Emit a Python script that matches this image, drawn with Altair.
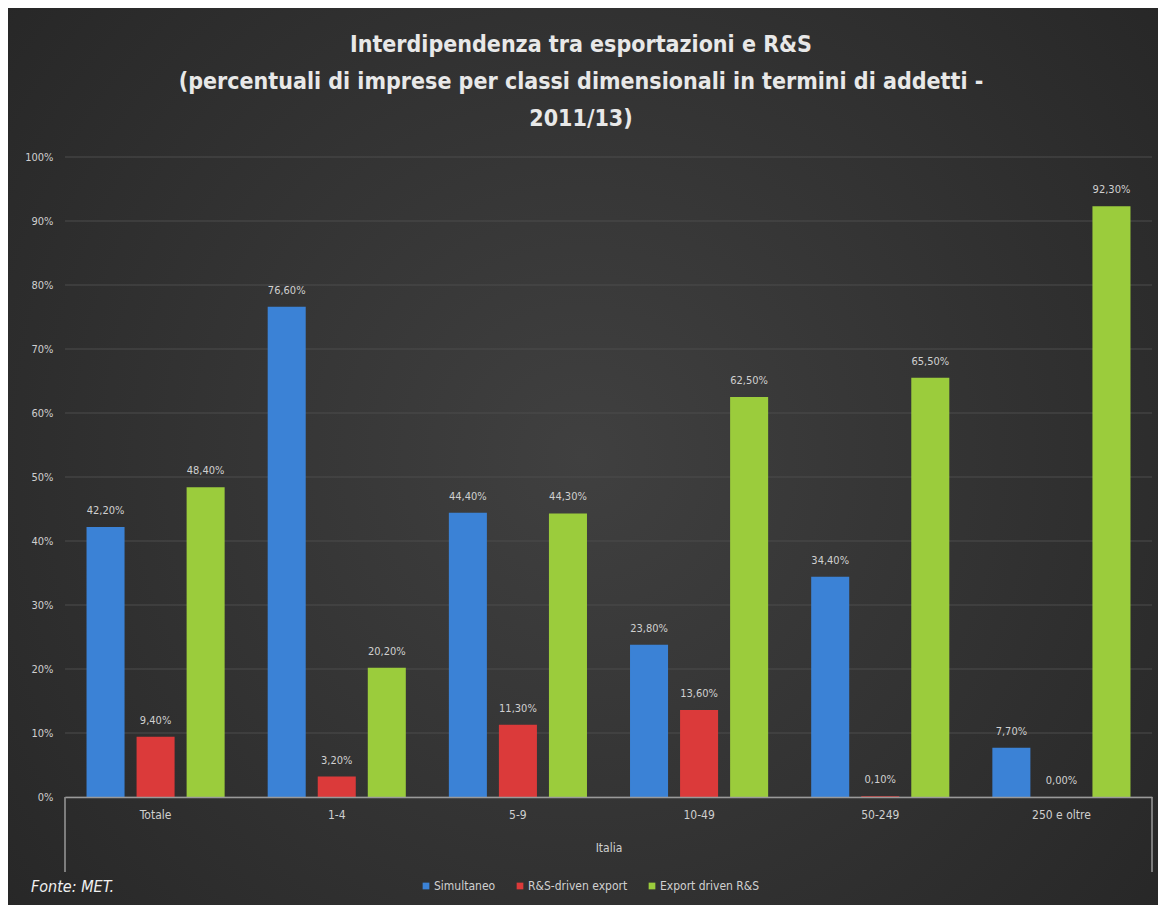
import altair as alt
import pandas as pd

categories = ["Totale", "1-4", "5-9", "10-49", "50-249", "250 e oltre"]
series = ["Simultaneo", "R&S-driven export", "Export driven R&S"]
simultaneo = [42.2, 76.6, 44.4, 23.8, 34.4, 7.7]
rs_driven = [9.4, 3.2, 11.3, 13.6, 0.1, 0.0]
export_driven = [48.4, 20.2, 44.3, 62.5, 65.5, 92.3]
colors = ["#3b82d6", "#db3a3a", "#9bcc3c"]
y_ticks = [0, 10, 20, 30, 40, 50, 60, 70, 80, 90, 100]
title_lines = ["Interdipendenza tra esportazioni e R&S",
               "(percentuali di imprese per classi dimensionali in termini di addetti -",
               "2011/13)"]
source_note = "Fonte: MET."

rows = []
for s, vals in zip(series, [simultaneo, rs_driven, export_driven]):
    for c, v in zip(categories, vals):
        rows.append({"cat": c, "series": s, "value": v})
df = pd.DataFrame(rows)
grid_df = pd.DataFrame({"t": y_ticks})
one = pd.DataFrame({"note": [source_note], "title": ["\n".join(title_lines)]})

FONT = "Liberation Sans Narrow, DejaVu Sans Condensed, Open Sans, sans-serif"
W, H = 1087, 640

yscale = alt.Scale(domain=[0, 100], nice=False)
yaxis = alt.Axis(title=None, values=y_ticks, labelExpr="datum.value + '%'", grid=False,
                 domain=False, ticks=False, labelColor="#cfcfcf", labelFontSize=11,
                 labelFont=FONT, labelPadding=12, zindex=1)
xscale = alt.Scale(paddingInner=0, paddingOuter=0)
xaxis = alt.Axis(title="Italia", labelAngle=0, ticks=False, domainColor="#9a9a9a",
                 domainWidth=1.5, labelColor="#cfcfcf", labelFontSize=12, labelFont=FONT,
                 labelPadding=12, titleColor="#cfcfcf", titleFontSize=12, titleFont=FONT,
                 titleFontWeight="normal", titlePadding=22, zindex=1)
xoffscale = alt.Scale(paddingInner=0.24, paddingOuter=0.43)

bg = alt.Chart(one).mark_rect(
    fill=alt.Gradient(gradient="radial", x1=0.5, y1=0.5, r1=0.0, x2=0.5, y2=0.5, r2=0.75,
                      stops=[alt.GradientStop(color="#404040", offset=0),
                             alt.GradientStop(color="#232323", offset=1)])
).encode(x=alt.value(-57), x2=alt.value(1093), y=alt.value(-149), y2=alt.value(748))

grid = alt.Chart(grid_df).mark_rule(color="#4d4d4d", strokeWidth=1).encode(
    y=alt.Y("t:Q", scale=yscale, axis=yaxis), x=alt.value(0), x2=alt.value(W))

bars = alt.Chart(df).mark_bar().encode(
    x=alt.X("cat:N", sort=categories, scale=xscale, axis=xaxis),
    xOffset=alt.XOffset("series:N", sort=series, scale=xoffscale),
    y=alt.Y("value:Q", scale=yscale, axis=yaxis),
    color=alt.Color("series:N", sort=series, scale=alt.Scale(domain=series, range=colors),
                    legend=alt.Legend(title=None, orient="none", legendX=355, legendY=723,
                                      direction="horizontal", symbolType="square", symbolSize=45,
                                      labelColor="#d0d0d0", labelFontSize=12, labelFont=FONT,
                                      columnPadding=18, labelOffset=2)))

labels = alt.Chart(df).transform_calculate(
    label="replace(format(datum.value, '.2f'), '.', ',') + '%'"
).mark_text(dy=-16, color="#d0d0d0", fontSize=11, font=FONT).encode(
    x=alt.X("cat:N", sort=categories, scale=xscale, axis=xaxis),
    xOffset=alt.XOffset("series:N", sort=series, scale=xoffscale),
    y=alt.Y("value:Q", scale=yscale, axis=yaxis), text="label:N")

box_l = alt.Chart(one).mark_rule(color="#9a9a9a", strokeWidth=1.5).encode(
    x=alt.value(0), y=alt.value(H), y2=alt.value(H + 75))
box_r = alt.Chart(one).mark_rule(color="#9a9a9a", strokeWidth=1.5).encode(
    x=alt.value(W), y=alt.value(H), y2=alt.value(H + 75))

note = alt.Chart(one).mark_text(align="left", baseline="middle", fontStyle="italic", fontSize=16,
                                color="#f0f0f0", font=FONT).encode(
    x=alt.value(-34), y=alt.value(730), text="note:N")

title = alt.Chart(one).mark_text(align="center", baseline="middle", fontSize=23, fontWeight="bold",
                                 color="#e8e8e8", font=FONT, lineBreak="\n", lineHeight=37).encode(
    x=alt.value(516), y=alt.value(-112), text="title:N")

chart = alt.layer(bg, grid, bars, labels, box_l, box_r, note, title).properties(
    width=W, height=H,
    background="#ffffff",
    padding={"left": 65, "top": 157, "right": 10, "bottom": 118},
    autosize=alt.AutoSizeParams(type="none"),
).configure_view(stroke=None)

chart.save("out.html", embed_options={"renderer": "svg", "actions": False})
